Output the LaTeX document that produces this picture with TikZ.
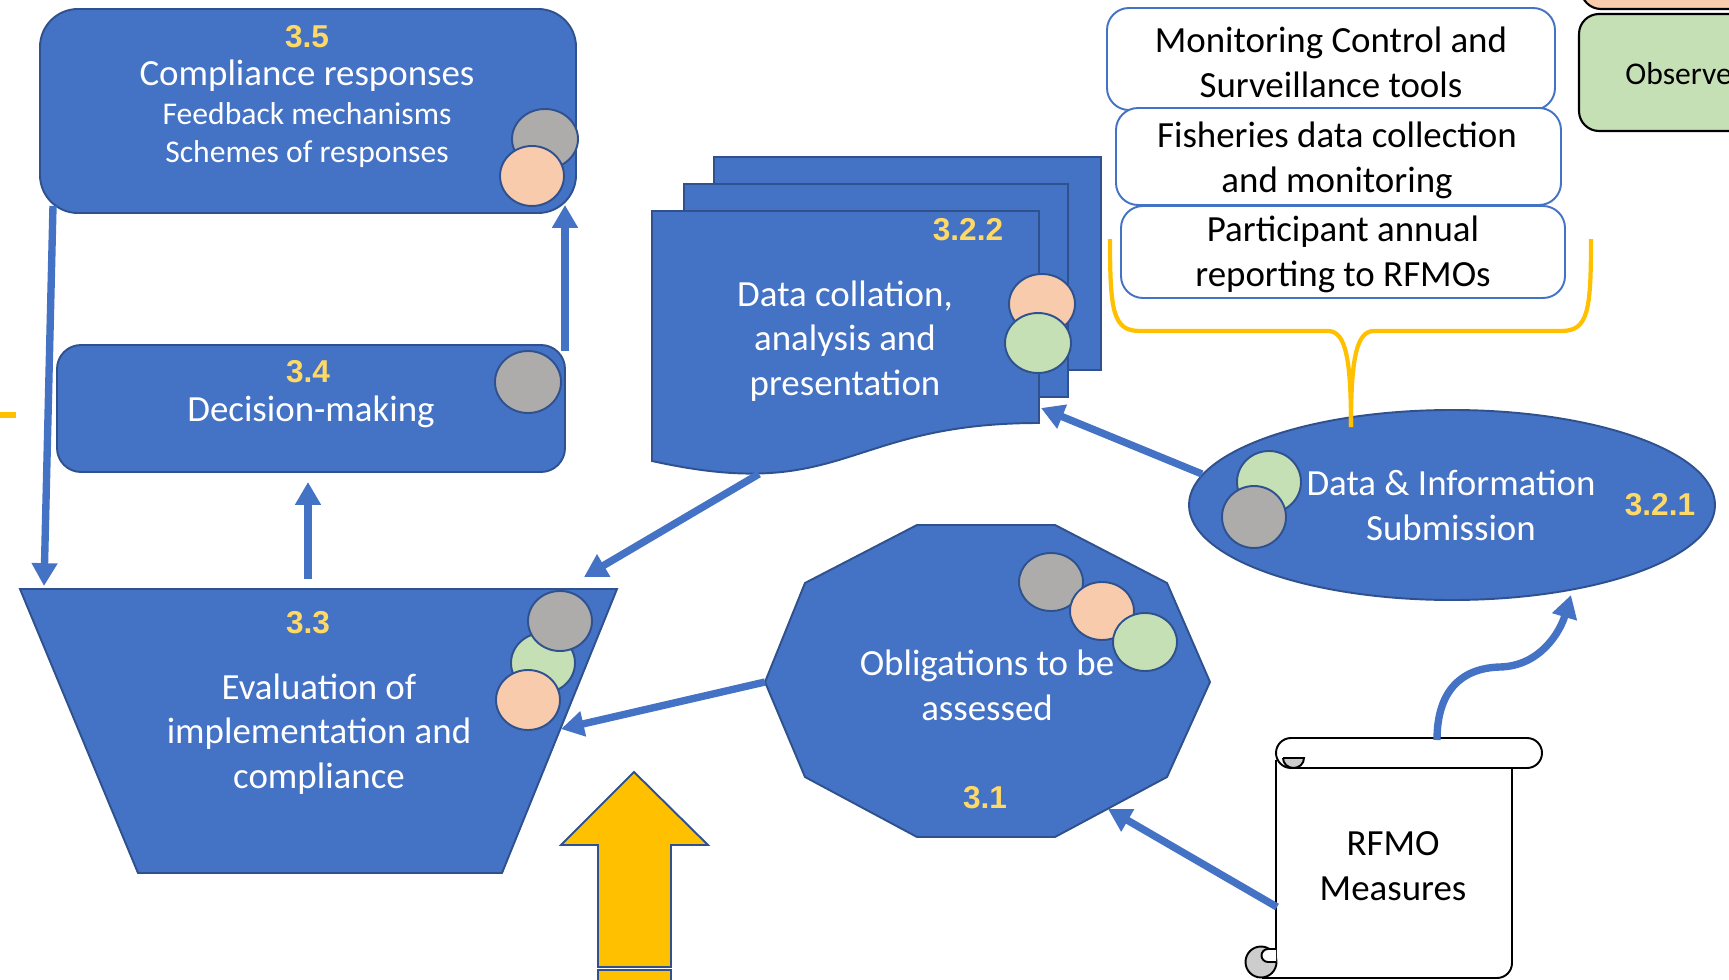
\documentclass[tikz,border=0pt]{standalone}
\usepackage{fontspec}
\setmainfont{Carlito}
\newfontfamily\labfont{Liberation Sans}
\usetikzlibrary{arrows.meta}
\definecolor{pblue}{HTML}{4472C4}
\definecolor{pdark}{HTML}{2F528F}
\definecolor{pgray}{HTML}{AEABAB}
\definecolor{ppeach}{HTML}{F8CBAD}
\definecolor{pgreen}{HTML}{C5E0B4}
\definecolor{pgold}{HTML}{FFC000}
\definecolor{plabel}{HTML}{FFD966}
\definecolor{pcurl}{HTML}{CDCDCD}
\begin{document}
\begin{tikzpicture}[x=0.02cm,y=-0.02cm,
 blueshape/.style={fill=pblue, draw=pdark, line width=1.1pt},
 dot/.style={draw=pdark, line width=1.1pt},
 wtxt/.style={text=white, font=\fontsize{21}{25.5}\selectfont, inner sep=0pt, align=center},
 wsmall/.style={text=white, font=\fontsize{18}{21.5}\selectfont, inner sep=0pt, align=center},
 btxt/.style={text=black, font=\fontsize{21}{25.5}\selectfont, inner sep=0pt, align=center},
 numlab/.style={text=plabel, font=\labfont\bfseries\fontsize{18}{22}\selectfont, inner sep=0pt},
 conn/.style={draw=pblue, line width=4.2pt, -{Triangle[length=13pt,width=14pt]}},
 wbox/.style={fill=white, draw=pblue, line width=1.1pt, rounded corners=0.44cm},
 scrollline/.style={draw=black, line width=1.1pt},
]
\useasboundingbox (0,0) rectangle (1729,980);
\clip (0,0) rectangle (1729,980);

% ---- top right boxes ----
\draw[fill=ppeach, draw=black, line width=1.2pt, rounded corners=0.4cm] (1581,-60) rectangle (1800,9);
\draw[fill=pgreen, draw=black, line width=1.2pt, rounded corners=0.4cm] (1579,14) rectangle (1800,131);
\node[btxt, font=\fontsize{18}{22}\selectfont, anchor=west] (tobs) at (1625,74) {Observe};

\draw[wbox] (1107,8) rectangle (1555,110);
\draw[wbox] (1116,108) rectangle (1561,205);
\draw[wbox] (1121,206) rectangle (1565,298);
\node[btxt] (tmcs) at (1331,62) {Monitoring Control and\\Surveillance tools};
\node[btxt] (tfish) at (1337,160) {Fisheries data collection\\and monitoring};
\node[btxt] (tpart) at (1343,254) {Participant annual\\reporting to RFMOs};

% ---- 3.5 ----
\draw[blueshape, rounded corners=0.76cm] (40,9) rectangle (576,213);
\draw[dot, fill=pgray] (545,139) ellipse [x radius=33, y radius=30];
\draw[dot, fill=ppeach] (532,176) ellipse [x radius=32, y radius=30];
\node[numlab] (n35) at (307,37) {3.5};
\node[wtxt] (t35) at (307,76) {Compliance responses};
\node[wsmall] (t35b) at (307,135) {Feedback mechanisms\\Schemes of responses};

% ---- 3.4 ----
\draw[blueshape, rounded corners=0.48cm] (57,345) rectangle (565,472);
\draw[dot, fill=pgray] (528,382) ellipse [x radius=33, y radius=31];
\node[numlab] (n34) at (308,372) {3.4};
\node[wtxt] (t34) at (311,412) {Decision-making};

% ---- 3.3 ----
\draw[blueshape] (20,589) -- (617,589) -- (502,873) -- (138,873) -- cycle;
\draw[dot, fill=pgreen] (543,663) ellipse [x radius=32, y radius=30];
\draw[dot, fill=pgray] (560,621) ellipse [x radius=32, y radius=30];
\draw[dot, fill=ppeach] (528,700) ellipse [x radius=32, y radius=30];
\node[numlab] (n33) at (308,623) {3.3};
\node[wtxt] (t33) at (319,734) {Evaluation of\\implementation and\\compliance};

% ---- 3.2.2 document stack ----
\draw[blueshape] (714,157) rectangle (1101,370);
\draw[blueshape] (684,184) rectangle (1068,397);
\draw[blueshape] (652,211) -- (1039,211) -- (1039,423) .. controls (845,423) and (845,504) .. (652,461) -- cycle;
\draw[dot, fill=ppeach] (1042,304) ellipse [x radius=33, y radius=30];
\draw[dot, fill=pgreen] (1038,343) ellipse [x radius=33, y radius=30];
\node[numlab] (n322) at (968,230) {3.2.2};
\node[wtxt] (t322) at (845,341) {Data collation,\\analysis and\\presentation};

% ---- 3.2.1 ellipse ----
\draw[blueshape] (1452,505) ellipse [x radius=263, y radius=95];
\draw[dot, fill=pgreen] (1269,482) ellipse [x radius=32, y radius=31];
\draw[dot, fill=pgray] (1254,517) ellipse [x radius=32, y radius=31];
\node[wtxt] (t321) at (1451,505) {Data \& Information\\Submission};
\node[numlab] (n321) at (1660,505) {3.2.1};

% brace
\draw[pgold, line width=2.4pt] (1110,239) .. controls (1110,312) and (1113,331) .. (1140,331) -- (1328,331) .. controls (1346,331) and (1351,360) .. (1351,427);
\draw[pgold, line width=2.4pt] (1591,239) .. controls (1591,312) and (1588,331) .. (1561,331) -- (1374,331) .. controls (1356,331) and (1351,360) .. (1351,427);

% ---- 3.1 decagon ----
\draw[blueshape] (917,525) -- (1055,525) -- (1167,583) -- (1210,682) -- (1167,777) -- (1055,837) -- (917,837) -- (805,777) -- (765,682) -- (805,583) -- cycle;
\draw[dot, fill=pgray] (1051,582) ellipse [x radius=32, y radius=29];
\draw[dot, fill=ppeach] (1102,611) ellipse [x radius=32, y radius=29];
\draw[dot, fill=pgreen] (1145,642) ellipse [x radius=32, y radius=29];
\node[wtxt] (t31) at (987,685) {Obligations to be\\assessed};
\node[numlab] (n31) at (985,798) {3.1};

% ---- scroll ----
\path[fill=white] (1262,760) rectangle (1512,978);
\draw[scrollline] (1276,760) -- (1276,963);
\draw[scrollline, rounded corners=0.3cm] (1262,978) -- (1512,978) -- (1512,766);
\draw[scrollline, fill=white, rounded corners=0.3cm] (1276,738) rectangle (1542,768);
\draw[scrollline, fill=pcurl] (1283,758) -- (1304,758) arc (0:180:10.5 and 10) -- cycle;
\draw[scrollline, fill=pcurl] (1261,962) circle [radius=15.5];
\draw[scrollline, fill=white] (1276,949) -- (1268,949) arc (-90:-270:6.5) -- (1276,962);
\draw[scrollline] (1262,978) -- (1276,978);
\node[btxt] (trfmo) at (1393,866) {RFMO\\Measures};

% ---- yellow arrow ----
\draw[fill=pgold, draw=pdark, line width=1.1pt] (634,772) -- (708,845) -- (671,845) -- (671,967) -- (598,967) -- (598,845) -- (561,845) -- cycle;
\draw[fill=pgold, draw=pdark, line width=1.1pt] (598,970) rectangle (671,982);

% left dash
\draw[pgold, line width=3.5pt] (-2,415) -- (16,415);

% ---- connectors ----
\coordinate (b34ne) at (565,351);
\coordinate (b35se) at (565,205);
\coordinate (b35sw) at (53,206);
\coordinate (tr33nw) at (44,586);
\coordinate (tr33n) at (308,579);
\coordinate (b34s) at (308,482);
\coordinate (docb) at (759,474);
\coordinate (tr33ne) at (584,577);
\coordinate (decw) at (765,682);
\coordinate (tr33e) at (561,729);
\coordinate (scrw) at (1277,907);
\coordinate (decse) at (1108,809);
\coordinate (ellw) at (1202,474);
\coordinate (docr) at (1041,408);
\coordinate (scrn) at (1437,740);
\coordinate (ellse) at (1571,595);

\draw[conn] (b34ne) -- (b35se);
\draw[conn] (b35sw) -- (tr33nw);
\draw[conn] (tr33n) -- (b34s);
\draw[conn] (docb) -- (tr33ne);
\draw[conn] (decw) -- (tr33e);
\draw[conn] (scrw) -- (decse);
\draw[conn] (ellw) -- (docr);
\draw[conn] (scrn) .. controls (1437,690) and (1462,668) .. (1500,667) .. controls (1540,666) and (1560,632) .. (ellse);
\end{tikzpicture}
\end{document}
